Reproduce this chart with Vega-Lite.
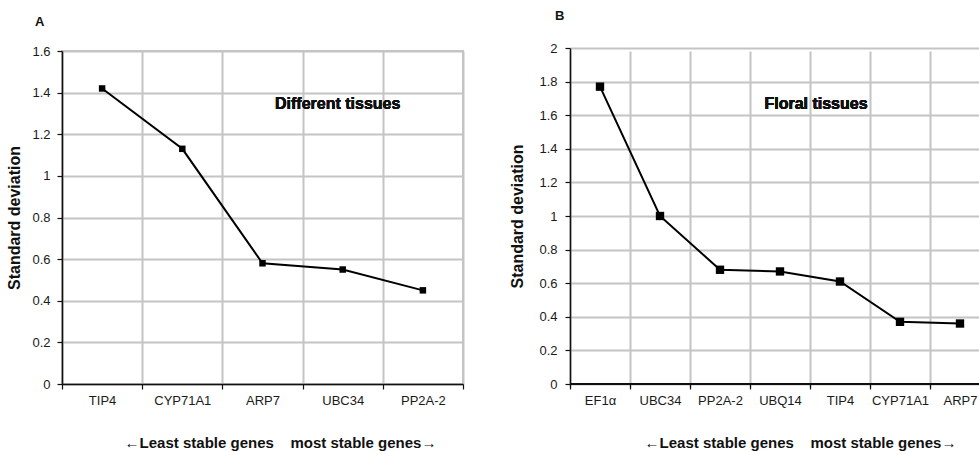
{
  "$schema": "https://vega.github.io/schema/vega-lite/v6.json",
  "background": "white",
  "padding": {"left": 5, "top": 10, "right": 0, "bottom": 0},
  "spacing": 44,
  "config": {
    "font": "Liberation Sans",
    "axis": {
      "labelFont": "Liberation Sans",
      "labelFontSize": 13,
      "labelColor": "#1a1a1a",
      "titleFont": "Liberation Sans",
      "titleFontSize": 16,
      "titleFontWeight": "bold",
      "titleColor": "#111111",
      "domainColor": "#111111",
      "domainWidth": 1.5,
      "tickColor": "#111111",
      "tickSize": 5,
      "tickWidth": 1.2,
      "grid": true,
      "gridColor": "#c4c4c4",
      "gridWidth": 2,
      "gridOpacity": 1
    },
    "title": {"font": "Liberation Sans", "fontSize": 13, "fontWeight": "bold", "anchor": "start", "frame": "group", "baseline": "bottom", "color": "#111111"}
  },
  "hconcat": [
    {
      "title": {"text": "A", "dx": -27, "offset": 16},
      "width": 401,
      "height": 333,
      "view": {"stroke": "#c4c4c4", "strokeWidth": 2},
      "data": {
        "values": [
          {"gene": "TIP4", "sd": 1.42},
          {"gene": "CYP71A1", "sd": 1.13},
          {"gene": "ARP7", "sd": 0.58},
          {"gene": "UBC34", "sd": 0.55},
          {"gene": "PP2A-2", "sd": 0.45}
        ]
      },
      "encoding": {
        "x": {
          "field": "gene",
          "type": "nominal",
          "sort": null,
          "scale": {"paddingInner": 0, "paddingOuter": 0},
          "axis": {
            "title": "\u2190Least stable genes\u00a0\u00a0\u00a0 most stable genes\u2192",
            "titleFontSize": 15,
            "titleX": 218,
            "titlePadding": 28,
            "labelAngle": 0,
            "labelPadding": 5,
            "tickBand": "extent",
            "grid": true,
            "gridColor": "#c4c4c4",
            "gridWidth": 2
          }
        },
        "y": {
          "field": "sd",
          "type": "quantitative",
          "scale": {"domain": [0, 1.6], "nice": false},
          "axis": {
            "title": "Standard deviation",
            "values": [0, 0.2, 0.4, 0.6, 0.8, 1, 1.2, 1.4, 1.6],
            "format": ".2~f",
            "labelPadding": 7,
            "titlePadding": 9,
            "grid": true,
            "gridColor": "#c4c4c4",
            "gridWidth": 2
          }
        }
      },
      "layer": [
        {"mark": {"type": "line", "color": "#000000", "strokeWidth": 2}},
        {"mark": {"type": "point", "shape": "square", "filled": true, "color": "#000000", "opacity": 1, "size": 42}},
        {
          "mark": {"type": "text", "text": "Different tissues", "fontSize": 16, "fontWeight": "bold", "color": "#111111", "baseline": "middle", "dx": -5},
          "encoding": {
            "x": {"datum": "UBC34", "type": "nominal"},
            "y": {"datum": 1.345, "type": "quantitative"}
          }
        }
      ]
    },
    {
      "title": {"text": "B", "dx": -15, "offset": 19},
      "width": 409,
      "height": 333,
      "view": {"stroke": null},
      "data": {
        "values": [
          {"gene": "EF1\u03b1", "sd": 1.77},
          {"gene": "UBC34", "sd": 1.0},
          {"gene": "PP2A-2", "sd": 0.68},
          {"gene": "UBQ14", "sd": 0.67},
          {"gene": "TIP4", "sd": 0.61},
          {"gene": "CYP71A1", "sd": 0.37},
          {"gene": "ARP7", "sd": 0.36}
        ]
      },
      "encoding": {
        "x": {
          "field": "gene",
          "type": "nominal",
          "sort": null,
          "scale": {"paddingInner": 0, "paddingOuter": 0, "range": [0, 420]},
          "axis": {
            "title": "\u2190Least stable genes\u00a0\u00a0\u00a0 most stable genes\u2192",
            "titleFontSize": 15,
            "titleX": 230,
            "titlePadding": 28,
            "labelAngle": 0,
            "labelPadding": 5,
            "tickBand": "extent",
            "grid": true,
            "gridColor": "#c4c4c4",
            "gridWidth": 2,
            "domain": false
          }
        },
        "y": {
          "field": "sd",
          "type": "quantitative",
          "scale": {"domain": [0, 2], "nice": false, "range": [333, -3]},
          "axis": {
            "title": "Standard deviation",
            "values": [0, 0.2, 0.4, 0.6, 0.8, 1, 1.2, 1.4, 1.6, 1.8, 2],
            "format": ".2~f",
            "labelPadding": 8,
            "titlePadding": 13,
            "grid": true,
            "gridColor": "#c4c4c4",
            "gridWidth": 2
          }
        }
      },
      "layer": [
        {
          "mark": {"type": "rule", "color": "#111111", "strokeWidth": 1.5},
          "encoding": {"x": null, "y": {"datum": 0, "type": "quantitative"}}
        },
        {"mark": {"type": "line", "color": "#000000", "strokeWidth": 2}},
        {"mark": {"type": "point", "shape": "square", "filled": true, "color": "#000000", "opacity": 1, "size": 70}},
        {
          "mark": {"type": "text", "text": "Floral tissues", "fontSize": 16, "fontWeight": "bold", "color": "#111111", "baseline": "middle", "dx": -24},
          "encoding": {
            "x": {"datum": "TIP4", "type": "nominal"},
            "y": {"datum": 1.667, "type": "quantitative"}
          }
        }
      ]
    }
  ]
}
